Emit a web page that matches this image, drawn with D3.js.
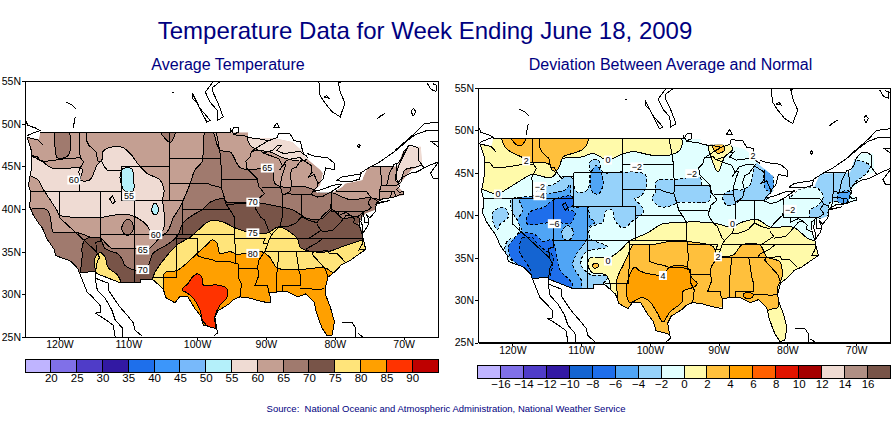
<!DOCTYPE html>
<html>
<head>
<meta charset="utf-8">
<script src="https://cdn.jsdelivr.net/npm/d3@7"></script>
<style>
  html, body { margin: 0; padding: 0; background: #fff; }
  svg { display: block; }
  text { font-family: 'Liberation Sans', Arial, sans-serif; }
</style>
</head>
<body>
<svg id="chart" width="895" height="423"></svg>
<script>
// all outlines below are [lon, lat]
const lonTicks = [-120, -110, -100, -90, -80, -70];
const latTicks = [25, 30, 35, 40, 45, 50, 55];

const avgBarColors = ['#bfb4ff', '#8070e8', '#4f3cc8', '#3219a3', '#1e6feb', '#3c96fa', '#78b9fa', '#b4f0fa',
  '#efdbd3', '#c49f92', '#a07a6e', '#785448', '#ffe47a', '#ffa000', '#ff3300', '#be0000'];
const avgBarLabels = ['20', '25', '30', '35', '40', '45', '50', '55', '60', '65', '70', '75', '80', '85', '90'];
const devBarColors = ['#bfb4ff', '#8070e8', '#4f3cc8', '#3219a3', '#1464d2', '#1e6eeb', '#50a5f5', '#96d2fa', '#e1ffff',
  '#fffaaa', '#ffc03c', '#ffa000', '#ff6000', '#e11400', '#a50000', '#efdbd3', '#b08f84', '#785448'];
const devBarLabels = ['−16', '−14', '−12', '−10', '−8', '−6', '−4', '−2', '0', '2', '4', '6', '8', '10', '12', '14', '16'];

// land area the shading is cut to (takes in Lake Michigan and part of Superior)
const landMask = [[-124.7,48.4],[-123,48.2],[-122.8,49],[-92.6,49],[-92.6,48.3],[-88.7,48.3],[-86.2,47.85],[-84.6,46.7],[-84.3,46.1],
  [-82.1,44.6],[-81.7,44.2],[-82.1,42.8],[-82.9,42.2],[-82.6,41.9],[-80.4,41.9],[-78.9,42.6],[-78.5,43],[-76,43.4],[-75.9,43.7],[-75.2,44.9],
  [-70.9,45],[-70.2,46.6],[-69.3,47.3],[-67.5,47.3],[-67.3,45.1],[-68.8,44.6],[-70.5,43],[-70.8,42.6],[-70,42],[-70,41.6],[-71.2,41.4],[-72.8,41.2],
  [-73.8,40.9],[-74,40.4],[-74.1,39.9],[-75.5,39.5],[-76.2,38.9],[-76.6,38.3],[-75.9,37.2],[-76,36.9],[-75.5,35.25],[-76.5,34.7],[-77.9,33.9],
  [-79,33.5],[-79.9,32.7],[-81,32],[-81.4,30.7],[-81.3,29.9],[-80.6,28.4],[-80.05,26.8],[-80.4,25.2],[-81.1,25.15],[-81.8,26],[-82.2,26.8],[-82.7,28],
  [-83,29.1],[-84.2,30.05],[-85.4,29.7],[-87,30.35],[-88,30.3],[-89.5,30.2],[-89.4,29.2],[-90.2,29.1],[-91.3,29.3],[-92.3,29.55],[-93.8,29.7],
  [-94.7,29.4],[-95.3,28.9],[-96.9,28.1],[-97.4,27.3],[-97.15,25.96],[-99.1,26.4],[-99.5,27.5],[-100.3,28.3],[-101.4,29.77],[-102.5,29.75],
  [-103.2,29],[-104.5,29.6],[-105,30.7],[-106.5,31.78],[-108.2,31.78],[-108.2,31.33],[-111.1,31.33],[-114.8,32.5],[-114.7,32.7],[-117.1,32.53],
  [-117.3,33],[-118.4,33.9],[-119.2,34.15],[-120.6,34.55],[-120.7,35.2],[-121.9,36.6],[-122,36.9],[-122.5,37.8],[-123,38.3],[-123.8,39.3],
  [-124.4,40.4],[-124.2,41],[-124.2,42],[-124.5,42.8],[-124.1,44.6],[-124,46.2],[-124.1,46.9]];

const coastLines = [
  [[-122.4,47.5],[-123.1,48.1],[-124.7,48.4],[-124.1,46.9],[-124,46.2],[-124.1,44.6],[-124.5,42.8],[-124.2,42],[-124.2,41],[-124.4,40.4],[-123.8,39.3],
   [-123,38.3],[-122.5,37.8],[-122,36.9],[-121.9,36.6],[-120.7,35.2],[-120.6,34.55],[-119.2,34.15],[-118.4,33.9],[-117.3,33],[-117.1,32.53],[-116,30.3],
   [-115.1,29.6],[-114.1,28.7],[-114.1,27.9],[-114.8,27.8],[-113.6,27.2],[-112.2,26.4],[-111.9,25]],
  [[-124.9,50.4],[-124.6,49.8],[-123.5,49.5],[-122.8,49.2],[-123.8,48.9],[-124.7,48.6]],
  [[-114.7,32.7],[-114.8,31.9],[-114.5,30.5],[-113.4,29.6],[-112.4,28.2],[-111.9,27],[-110.9,26.1],[-110.8,25]],
  [[-114.8,31.9],[-112.9,31.3],[-112.9,30.5],[-111.9,29.3],[-111.2,28.5],[-110.2,27.6],[-109.3,26.7],[-109,25.8],[-108,25.1]],
  [[-117.1,32.53],[-114.7,32.7],[-114.8,32.5],[-111.1,31.33],[-108.2,31.33],[-108.2,31.78],[-106.5,31.78],[-105,30.7],[-104.5,29.6],[-103.2,29],
   [-102.5,29.75],[-101.4,29.77],[-100.3,28.3],[-99.5,27.5],[-99.1,26.4],[-97.15,25.96],[-97,25.5],[-97.6,25.1]],
  [[-97.15,25.96],[-97.4,27.3],[-96.9,28.1],[-95.3,28.9],[-94.7,29.4],[-93.8,29.7],[-92.3,29.55],[-91.3,29.3],[-90.2,29.1],[-89.4,29],[-89.4,29.8],
   [-89.5,30.2],[-88,30.3],[-87,30.35],[-85.4,29.7],[-84.2,30.05],[-83,29.1],[-82.7,28],[-82.2,26.8],[-81.8,26],[-81.1,25.15],[-80.4,25.2],[-80.05,26.8],
   [-80.6,28.4],[-81.3,29.9],[-81.4,30.7],[-81,32],[-79.9,32.7],[-79,33.5],[-77.9,33.9],[-76.5,34.7],[-75.5,35.25],[-75.9,36.6],[-76,37],[-76.4,38],
   [-76.5,39.2],[-76,39.5],[-76.2,38.5],[-75.9,37.9],[-75.9,37.2],[-75.2,38],[-75.05,38.45],[-75.1,38.8],[-75.4,39.4],[-74.9,38.95],[-74.1,39.7],[-74,40.4],
   [-74,40.7],[-72,41],[-74,40.6],[-73.7,40.9],[-72.9,41.25],[-71.9,41.3],[-71,41.5],[-70.6,41.65],[-70,41.75],[-70,42.05],[-70.6,41.95],[-71,42.3],
   [-70.6,42.65],[-70.8,43.1],[-70.2,43.7],[-69,44.2],[-68.2,44.3],[-67,44.8],[-66,45.2],[-65,45.5]],
  [[-75.6,35.3],[-76.5,35.2],[-76,35.9],[-75.9,36.5]],
  [[-65,45.4],[-66.1,44.2],[-65.7,43.6],[-65,43.6]],
  [[-71.2,46.8],[-69.3,48.1],[-68.3,48.7],[-66.6,49.2],[-65,49.2]],
  [[-71.2,46.9],[-69.6,48],[-68.2,49],[-67,50],[-65,50.2]],
  [[-65,47.9],[-66,47.9],[-65,47.3]],
  [[-82.3,55],[-82.2,53.4],[-81.4,52.4],[-80.4,51.4],[-79.2,50.8],[-79,51.3],[-78.5,52.4],[-79.2,53.7],[-79.5,54.8],[-78.6,55]],
  [[-78.9,26.7],[-77.5,26.7],[-77,26.1],[-77,25]],
  [[-76.6,25.4],[-75.9,25]]
];

const lakeLines = [
  [[-87.6,41.65],[-87.85,42.5],[-87.8,43.4],[-87.5,44.3],[-87.1,45.2],[-87.6,45.1],[-88,44.55],[-87,45.7],[-86,45.95],[-85,46],[-84.75,45.85],[-85,45.6],
   [-85.6,44.9],[-86.2,44.7],[-86.5,43.9],[-86.25,43],[-86.5,42.1],[-87.2,41.7],[-87.6,41.65]],
  [[-92.1,46.75],[-90.8,46.9],[-90.4,46.55],[-89,46.9],[-88.4,47.4],[-87.8,47.45],[-88.4,46.85],[-87.4,46.5],[-86,46.65],[-85,46.75],[-84.6,46.45],[-84.1,46.2],[-84,46]],
  [[-92.1,46.75],[-90.5,47.6],[-89.6,48],[-88.3,48.4],[-88.2,48.9],[-86.5,48.8],[-85.9,48],[-85,47.9],[-84.7,46.9],[-84.5,46.5]],
  [[-84.75,45.8],[-83.4,45.1],[-83.3,44.3],[-83.9,43.7],[-83,44.05],[-82.5,43.1],[-82.5,42.6],[-83.1,42.2],[-83.4,41.7],[-82.5,41.4],[-81.7,41.5],[-80.5,42],[-78.9,42.9]],
  [[-78.9,42.87],[-80.2,42.8],[-81.8,42.3],[-83.1,42.05]],
  [[-82.4,43],[-81.7,43.5],[-81.3,44.8],[-80,44.6],[-80,45.3],[-81,46],[-83,46.2],[-84,46.5]],
  [[-79.8,43.3],[-79,43.27],[-77.5,43.25],[-76.4,43.5],[-76.2,44.1],[-77.5,43.95],[-79,43.75],[-79.8,43.3]],
  [[-76.3,44.2],[-74.7,45],[-73.5,45.5],[-71.2,46.8]],
  [[-97.7,54.9],[-98.8,53.7],[-98.1,52.5],[-97.1,51.6],[-97,50.4],[-96.2,50.8],[-97,52.5],[-97.7,53.7],[-97.8,54.2],[-96.7,54.9]],
  [[-100.7,53.6],[-99.6,51.8],[-98.1,50.4],[-98.6,50.2],[-100,52.4],[-100.7,53],[-100.7,53.6]],
  [[-103.6,53.6],[-103.3,53.6]],
  [[-119,52.5],[-118.2,52.2],[-117.6,51.7]],
  [[-117.7,50.8],[-118,49.5]],
  [[-95.1,49],[-94.6,49.6],[-94,49.6],[-94,49],[-94.6,48.8]],
  [[-88.9,49.5],[-88.4,50.1],[-88,49.5],[-88.9,49.5]],
  [[-81.6,53.1],[-81.2,53.3],[-80.9,53],[-81.6,53.1]],
  [[-73.9,50.5],[-73.2,51],[-72.7,51.2],[-73.5,50.8],[-73.9,50.5]],
  [[-68.9,51.4],[-68.6,51.8],[-68.2,51.4],[-68.6,50.9],[-68.9,51.4]],
  [[-76.7,47.4],[-76.5,47.6],[-76.3,47.4],[-76.5,47.2],[-76.7,47.4]],
  [[-66.6,54.8],[-66,54],[-65.3,53.8],[-65.2,54.5],[-65.8,54.7]],
  [[-112.7,41.2],[-112.3,41.5],[-111.9,40.9],[-112.3,40.6],[-112.7,41.2]]
];

const stateLines = [
  [[-122.8,49],[-95.15,49],[-95.15,49.38],[-94.6,48.7],[-93,48.55],[-92,48.3],[-90.8,48.2],[-89.6,48]],
  [[-124,46.25],[-123.2,46.15],[-122.8,45.65],[-122,45.6],[-121.2,45.65],[-120,45.8],[-119,45.93],[-116.92,46]],
  [[-117.03,49],[-117.04,46.4],[-116.92,46],[-116.5,45.5],[-116.85,45],[-117.2,44.4],[-117.03,43.8],[-117.03,42]],
  [[-124.2,42],[-111.05,42]],
  [[-120,42],[-120,39],[-114.63,35],[-114.15,34.3],[-114.5,33.9],[-114.72,32.72]],
  [[-114.04,42],[-114.04,37],[-114.05,36.2],[-114.7,36.1],[-114.63,35]],
  [[-114.04,37],[-94.62,37]],
  [[-116.05,49],[-116.05,48],[-115.7,47.45],[-114.7,46.7],[-114.4,45.6],[-113.9,45.6],[-113.4,44.9],[-113,44.5],[-111.5,44.55],[-111.05,44.5]],
  [[-111.05,45],[-104.05,45]],
  [[-111.05,45],[-111.05,41],[-104.05,41]],
  [[-109.05,41],[-109.05,31.33]],
  [[-104.05,41],[-102.05,41],[-102.05,37]],
  [[-103,37],[-103.05,32],[-106.6,32]],
  [[-103,36.5],[-100,36.5],[-100,34.56],[-99.2,34.3],[-98,34.1],[-97,33.8],[-95.5,33.9],[-94.48,33.64],[-94.04,33.55],[-94.04,32],[-93.55,31.2],[-93.7,30.1],[-93.8,29.7]],
  [[-94.62,37],[-94.43,35.4],[-94.48,33.64]],
  [[-104.05,49],[-104.05,41]],
  [[-104.05,45.94],[-96.56,45.94]],
  [[-104.05,43],[-98.5,43],[-97.9,42.8],[-96.5,42.5]],
  [[-102.05,40],[-95.3,40]],
  [[-94.62,37],[-94.62,39.1],[-95.3,40],[-95.8,40.6],[-96.1,41.5],[-96.5,42.5],[-96.45,43.5],[-96.56,45.94],[-96.85,47.5],[-97.2,49]],
  [[-96.45,43.5],[-91.22,43.5]],
  [[-95.77,40.58],[-91.7,40.6],[-91.4,40.4]],
  [[-92.1,46.75],[-92.3,46.1],[-92.9,45.6],[-92.75,44.75],[-91.2,43.5],[-91.1,42.7],[-90.2,41.8],[-91.1,41.2],[-91.4,40.4],[-91.5,40],[-90.7,39],[-90.2,38.7],
   [-89.5,37.3],[-89.15,37],[-89.5,36.5],[-90.1,35.1],[-91.1,33.9],[-91.2,33],[-91,32.3],[-91.6,31],[-89.73,31],[-89.6,30.2]],
  [[-94.04,33],[-91.2,33]],
  [[-94.62,36.5],[-90.15,36.5],[-90.37,36],[-89.7,36]],
  [[-89.5,36.5],[-81.68,36.59],[-75.9,36.55]],
  [[-90.3,35],[-84.32,35],[-84,35.4],[-82.6,36],[-81.7,36.59]],
  [[-88.2,35],[-88.1,34.9],[-88.47,31.9],[-88.4,30.3]],
  [[-85.6,35],[-85.2,32.8],[-85,32.2],[-85,31],[-87.6,31],[-87.5,30.3]],
  [[-85,30.7],[-84.86,30.7],[-82.2,30.57],[-81.5,30.7]],
  [[-83.1,35],[-83.3,34.7],[-82.5,34],[-81.4,33],[-81,32.1]],
  [[-84.32,35],[-81,35.1],[-80.8,34.8],[-79.7,34.8],[-78.55,33.85]],
  [[-83.68,36.6],[-82,37.5],[-82.6,38.2]],
  [[-81.9,37.3],[-80.3,37.5],[-79.2,38.4],[-78.4,39.2],[-77.75,39.3]],
  [[-89.15,37],[-88.1,37.9],[-87,37.9],[-85.7,38.3],[-84.8,39.1],[-83.7,38.65],[-82.6,38.4],[-81.75,39.2],[-80.7,40],[-80.52,40.64]],
  [[-87.53,41.7],[-87.53,39.3],[-88,37.9]],
  [[-84.8,41.7],[-84.8,39.1]],
  [[-87.2,41.76],[-84.8,41.75],[-83.45,41.73]],
  [[-80.52,42],[-80.52,39.72],[-75.8,39.72],[-75.4,39.8]],
  [[-79.76,42.27],[-79.76,42],[-75.35,42],[-74.7,41.36],[-73.9,41]],
  [[-75.4,39.8],[-75.1,39.9],[-74.7,40.2],[-75.2,40.7],[-74.7,41.36]],
  [[-79.48,39.72],[-79.48,39.2],[-78.4,39.6],[-77.75,39.3],[-77.1,38.8],[-77.3,38.4],[-76.3,38]],
  [[-75.8,39.72],[-75.7,38.46],[-75.05,38.45]],
  [[-74.7,45],[-71.5,45],[-71.4,45.25],[-70.8,45.4],[-70.3,45.9],[-70,46.7],[-69.2,47.45],[-68.3,47.35],[-67.8,47.07],[-67.8,45.7],[-67.45,45.3],[-67,44.8]],
  [[-73.35,45],[-73.25,43.6],[-73.27,42.75],[-73.5,42.05],[-73.5,41.3],[-73.65,41]],
  [[-71.5,45],[-72.05,44.2],[-72.46,42.73]],
  [[-73.27,42.75],[-71.3,42.7],[-70.8,42.87]],
  [[-73.5,42.05],[-71.38,42.02],[-71.1,41.5]],
  [[-71.8,42.02],[-71.85,41.3]],
  [[-71.08,45.3],[-70.97,43.4],[-70.7,43.1]],
  [[-90.64,42.5],[-87.8,42.5]],
  [[-90.4,46.55],[-88.1,45.9],[-87.6,45.1]]
];

// average temperature bands
const avgLight = [[-124.6,46.2],[-122.4,45.5],[-121.1,44.8],[-117,44.8],[-116.6,44.6],[-117,43.4],[-115.6,43.4],[-114.5,45.2],[-113.8,45.8],[-113.7,46.7],[-112.7,47.2],
  [-110.8,47.2],[-109.5,46.3],[-108.7,45.4],[-107.3,44.2],[-105.4,43.4],[-104.8,42.2],[-105,41.1],[-104.7,38.7],[-105,37.5],[-106.5,37],[-107.3,38.1],[-109.7,39.3],
  [-111.9,39.3],[-114.1,39],[-116.6,39],[-120,39.3],[-120.4,39.9],[-122.5,42.5],[-123.1,43.4],[-124.3,43.9],[-125.7,43.9]];
const avgLightNorth = [[-92.6,48.4],[-92.3,47.5],[-91.1,46.9],[-89.4,46.7],[-87.5,46],[-84.3,45.7],[-83.6,46.7],[-85,48.1],[-88.7,48.7]];
const avgLightEast = [[-71.2,43.4],[-70.9,44.6],[-70,46.3],[-69,47.5],[-66.9,47.5],[-66.9,45.4],[-68.3,44.9],[-69.8,44.6],[-70.5,43]];
const avg65Idaho = [[-120.5,49.4],[-118.8,49.4],[-118.7,46.3],[-120.3,46],[-120.6,47]];
const avg65Dakota = [[-105.4,49.3],[-103.9,47.8],[-103.2,49.3]];
const avg65Utah = [[-110.1,38.8],[-109.4,38.4],[-109.3,37.6],[-110,36.9],[-110.7,37.2],[-110.9,38]];
const avg65 = [[-127.2,38.7],[-121.8,39.9],[-120.9,37.3],[-120.1,37.2],[-117.3,37.2],[-115.1,36.6],[-114.1,36.6],[-112.4,35.4],[-110.8,35.4],[-108.6,35.4],[-107.1,35.3],
  [-105.7,36.4],[-104.2,37.5],[-103.5,38.9],[-102.5,40.2],[-101.8,41.4],[-101,43],[-100.3,44.6],[-99.3,45.5],[-99.1,46.9],[-98.8,49.1],[-97.8,49.1],[-96.7,46.9],[-95.2,46.7],
  [-93.8,44.9],[-92.3,44.6],[-90.1,44.8],[-89.1,44.6],[-88.7,43],[-87.7,42.6],[-84.3,42.6],[-82.9,42.2],[-82.1,41.9],[-80.4,41.9],[-77.8,41.1],[-74.6,41.3],[-72.7,40.5],[-72.7,24],[-127.2,24]];
const avg70 = [[-117,32.3],[-116.7,34.4],[-116.7,35.5],[-116.3,36.4],[-115.1,36.7],[-114.1,36.6],[-113.4,35.4],[-112.4,35],[-111.6,34.8],[-110.8,34],[-110.5,33.4],[-108.6,32.8],
  [-107.1,33.4],[-106.4,34.8],[-104.4,35.8],[-102.9,36.8],[-102,38.4],[-100.6,39.3],[-99.3,39.9],[-98.1,40.8],[-96.2,41.2],[-95.7,40.8],[-92.7,40.8],[-90.9,40.7],[-87.6,40.2],
  [-86.1,39.9],[-84,38.9],[-81.8,38.9],[-80.4,39.9],[-78.8,38.9],[-76.8,39.1],[-75.6,38.1],[-74.1,36.4],[-74.1,24.6],[-117.7,24.6]];
const avg75Phoenix = [[-114.8,34.3],[-114.1,34.9],[-113.4,34.4],[-112.9,33.1],[-111.6,32.3],[-111.2,31.4],[-114.1,31.7],[-114.7,32.6]];
const avg75 = [[-106.8,31.1],[-106.1,32.6],[-104.9,34],[-102.9,35.8],[-101,36.7],[-98.6,38.4],[-97.7,38.7],[-96,38.4],[-94.5,37.8],[-92.6,37.3],[-89.7,37.2],[-88.2,37.9],
  [-85.5,36.6],[-85,35.5],[-83.9,35.1],[-81,35],[-79.2,35.5],[-77,36.1],[-74.6,36.4],[-74.6,24.6],[-106.8,24.6]];
const avg80 = [[-104.7,29.3],[-104.7,32.5],[-102.9,32.8],[-101.3,33.8],[-100,34.8],[-98.6,35.8],[-97.8,36.4],[-97.1,36],[-96.7,34.8],[-95.2,35],[-94.2,34.7],[-90.6,35],[-89.4,34.3],
  [-88.4,33.1],[-85.3,32.9],[-81.4,33.1],[-80.4,32.6],[-78.5,32.3],[-78.5,24.5],[-104.7,24.5]];
const avg85 = [[-102.2,30.5],[-101.3,31.3],[-100.7,32],[-100,32.4],[-99.3,32],[-99.1,31.1],[-97.1,31.1],[-95.7,30.7],[-95.7,29.6],[-96.7,28.7],[-97.4,27.4],[-97.4,25.8],[-99.1,26.8],
  [-99.6,28.2],[-100.6,29.6],[-101.5,30.2]];
const avg50Wyoming = [[-111.2,43.7],[-110.8,44.7],[-109.5,44.7],[-109.2,43.4],[-109.3,42.1],[-110.5,42.1],[-111.1,43.2]];
const avg50Colorado = [[-106.1,40.7],[-105.7,40.3],[-105.65,39.7],[-106.1,39.3],[-106.55,39.7],[-106.5,40.3]];

// departure from normal bands
const dev0North = [[-125.4,43],[-124.3,43],[-122.2,42.5],[-120.6,43.2],[-119.2,43.9],[-117.1,44.8],[-114.5,44.4],[-113.8,44.8],[-112.8,46.6],[-109.7,46.9],[-108.3,47.3],[-106.1,46.5],
  [-104.3,47.1],[-102.4,47.5],[-99.9,47.1],[-97.1,47.1],[-95.6,47.7],[-95.3,48.5],[-95.9,49.8],[-125.4,49.8]];
const dev0South = [[-105.8,32],[-106.5,33],[-108.3,33.2],[-109,34.1],[-108.7,35],[-105.9,35],[-104.3,35.9],[-102.9,37],[-100.4,37.9],[-98.1,39],[-96.3,39.1],[-94.7,39.2],[-90.8,39.1],
  [-88,38.6],[-86.9,39.1],[-84.4,39.5],[-82.5,38.6],[-79.2,38.6],[-77.1,37.3],[-75.2,36.5],[-75.2,24.7],[-105.8,24.7]];
const dev0Superior = [[-91.5,48],[-91.2,47.1],[-90.1,45.1],[-89.1,46.9],[-88,47.7],[-88.5,48.5],[-91.2,48.3]];
const dev2North = [[-121.4,49.8],[-121.1,48.1],[-120.3,47.5],[-119.3,47.1],[-118.5,46.8],[-117.4,46.2],[-115.3,46.2],[-114.5,45.9],[-114.2,45.3],[-113.5,45.3],[-113.1,45.9],[-112.6,46.9],
  [-111.2,47.3],[-109.7,47.8],[-109.1,48.5],[-109.1,49.8]];
const dev2Superior = [[-90.8,47.9],[-90.1,47.3],[-89.1,47.7],[-89.4,48.3],[-90.8,48.2]];
const dev2South = [[-104.6,24.7],[-104.6,29.4],[-104.8,32.4],[-103.9,34.1],[-103.2,35.3],[-102.4,36.5],[-100,36.5],[-97.1,36.9],[-94.6,36.9],[-90.8,36.3],[-90.2,35.3],[-87.9,35.3],
  [-86.6,36.5],[-84,36.5],[-83,35.1],[-81.1,34.5],[-80.8,32.6],[-81.4,31.6],[-81.4,29.1],[-82.8,28.8],[-84,24.7]];
const dev2Pocket = [[-108.3,34.2],[-107.6,34.3],[-107.5,33.9],[-108.2,33.8]];
const dev4North = [[-120.2,49.3],[-119.4,48.3],[-118.6,48.3],[-118,49.3]];
const dev4Texas = [[-103.3,30.3],[-103.3,32],[-102.2,33.9],[-101.4,33.4],[-98.1,33],[-97.1,33.9],[-94.6,33.9],[-93.9,32.6],[-93.1,32],[-93.4,31.6],[-95.2,31],[-95.3,29.8],[-97.1,28.6],
  [-98.1,27.4],[-99,28.6],[-100,29.8],[-101.1,30.3],[-102.9,29.7]];
const dev4Gulf = [[-86.4,30.7],[-85.6,30.9],[-84.9,30.6],[-85.4,30.2],[-86.2,30.3]];
const devM2West = [[-117.4,32.7],[-118.5,33.3],[-120.1,34.7],[-121.1,35.9],[-120.6,37.1],[-119.6,37.4],[-118.9,38.6],[-120.1,40.6],[-120.1,41.9],[-117.1,42.2],[-116,43.2],[-114.1,43.6],
  [-112.3,44.5],[-111.3,44.4],[-110.9,43],[-110.4,42.7],[-109.1,43],[-108.7,44.8],[-108.7,46.3],[-107.5,46.5],[-106.8,45.1],[-104,45.1],[-100.7,44.8],[-100.6,43.2],[-101.4,42.2],[-102.2,42],
  [-101.1,40.9],[-101,40.3],[-102.4,39.4],[-103.9,38.5],[-105.1,39.4],[-105.5,40.6],[-106.5,40.4],[-106.8,39.2],[-107.7,38.9],[-108.7,38.5],[-108.7,37.3],[-106.2,36.3],[-109.4,35.6],
  [-110,34.2],[-108.6,33],[-106.5,32.9],[-106.2,32.6],[-108.3,31.2],[-117.4,30.6]];
const devM2Coast = [[-122.8,40.4],[-121.1,40.9],[-120.6,39.8],[-121.8,38.9],[-122.2,38.3],[-122.8,39.1]];
const devM2Plains = [[-99.2,43.8],[-98.5,44.2],[-96.6,44.2],[-94.6,44.4],[-92.7,44.5],[-92.4,43.6],[-91.2,43.3],[-91.2,42.2],[-91.5,41.6],[-93.4,41.5],[-95.9,41.5],[-96.6,41.2],[-98.5,41],[-99.7,42],[-99.2,42.7]];
const devM2Lakes = [[-89.1,42.6],[-87.6,43],[-86.6,43],[-85.4,43.6],[-85,45.1],[-84.4,46.2],[-83,45.6],[-82.2,43.6],[-82,42.6],[-82.5,42.2],[-83.2,41.8],[-86.9,41.7],[-87.9,41.2],[-88.8,41.2],[-89.4,42]];
const devM2East = [[-79.6,42.2],[-78.4,43],[-75.7,43.2],[-74.8,42.2],[-75.5,41.2],[-76.7,40.6],[-76.7,39.8],[-75.5,39.7],[-74.5,39.4],[-74.1,40.3],[-73.8,41.5],[-71.3,41.6],[-70.9,42.8],[-70.1,43.9],[-68.4,45],
  [-68,45.9],[-78.1,46.5]];
const devM4West = [[-117,31.2],[-117,32.6],[-117.4,33.2],[-118.6,34.4],[-120.1,35.7],[-120.1,36.5],[-119.3,37.1],[-118.5,37.9],[-119.2,39.4],[-118.5,40.6],[-119,42],[-117,42.2],[-114.5,42.6],[-112.3,43],[-111.6,43.6],
  [-111.2,41],[-109.1,41],[-108.7,39.7],[-108,39.2],[-109,38.5],[-109.1,37.3],[-110.9,35.1],[-111.2,34.1],[-109.9,32.1],[-110.4,30.6]];
const devM4Oval = [[-108.7,43.8],[-108.4,45.3],[-107.7,45.9],[-107,44.8],[-106.8,43.6],[-107.5,42.5],[-108.3,42.7]];
const devM4Michigan = [[-83.2,45.6],[-82.4,45.3],[-82,43.6],[-82.4,42.8],[-83.1,43],[-83.4,44.2]];
const devM4East = [[-72.6,42.6],[-70.9,42.8],[-71.3,41.5],[-72.6,41.5]];
const devM6North = [[-118,39.3],[-117.4,40.4],[-115.3,41],[-114.1,41.8],[-111.3,42.2],[-111.2,41.2],[-111.9,40.6],[-110.9,40.4],[-111.2,39.4],[-111.6,39],[-113.8,39.2],[-116.7,38.9],[-117.7,38.9]];
const devM2Utah = [[-112,38.8],[-111.3,38.4],[-111.2,37.6],[-111.9,37],[-112.6,37.3],[-112.8,38.1]];
const devM6South = [[-119.9,37.1],[-118.9,37.9],[-116.7,37.7],[-115.5,36.9],[-114.2,37.1],[-113.1,33.6],[-111.3,31.8],[-113.1,30.6],[-116.7,30.6],[-118.5,33.6],[-120.3,35.1],[-120.6,36.3]];
const devM8South = [[-118.9,36.7],[-118.6,37.3],[-117,37.3],[-116.4,36.7],[-115.3,35.9],[-114.2,35.3],[-114.2,33.8],[-114.8,32.6],[-117.1,32.6],[-117.4,33.6],[-118.5,35],[-118.9,35.6]];

// contour labels: [lon, lat, text]
const avgLabels = [[-117.9,43.4,'60'],[-109.9,41.5,'55'],[-106,37,'60'],[-107.9,35.2,'65'],[-107.9,32.9,'70'],[-91.9,37.2,'75'],[-91.9,34.8,'80'],[-89.8,44.8,'65'],[-91.9,40.8,'70']];
const devLabels = [[-118,46.4,'2'],[-122.1,42.5,'0'],[-116,43.4,'−2'],[-116,42.3,'−4'],[-106.1,46.5,'0'],[-93.9,44.9,'−2'],[-101.9,45.7,'−2'],[-85,47,'2'],[-79.6,40.7,'−2'],
  [-113.9,39,'−6'],[-106.1,34.6,'0'],[-98.1,32.9,'4'],[-90.1,35.1,'2'],[-88,39,'0']];

const avgLayers = [
  [avgLight, '#efdbd3'], [avgLightNorth, '#efdbd3'], [avgLightEast, '#efdbd3'],
  [avg65Idaho, '#a07a6e'], [avg65Dakota, '#a07a6e'], [avg65Utah, '#a07a6e'], [avg65, '#a07a6e'],
  [avg70, '#785448'], [avg75Phoenix, '#ffe47a'], [avg75, '#ffe47a'], [avg80, '#ffa000'], [avg85, '#ff3300'],
  [avg50Wyoming, '#b4f0fa'], [avg50Colorado, '#b4f0fa']
].map(([ring, color]) => ({ ring, color, dashed: false }));

const devLayers = [
  [dev0North, '#fffaaa', 0], [dev0South, '#fffaaa', 0], [dev0Superior, '#fffaaa', 0],
  [dev2North, '#ffc03c', 0], [dev2Superior, '#ffc03c', 0], [dev2South, '#ffc03c', 0], [dev2Pocket, '#ffc03c', 0],
  [dev4North, '#ffa000', 0], [dev4Texas, '#ffa000', 0], [dev4Gulf, '#ffa000', 0],
  [devM2West, '#96d2fa', 1], [devM2Coast, '#96d2fa', 1], [devM2Plains, '#96d2fa', 1], [devM2Lakes, '#96d2fa', 1], [devM2East, '#96d2fa', 1],
  [devM4West, '#50a5f5', 1], [devM4Oval, '#50a5f5', 1], [devM4Michigan, '#50a5f5', 1], [devM4East, '#50a5f5', 1],
  [devM6North, '#1e6eeb', 1], [devM2Utah, '#96d2fa', 1], [devM6South, '#1e6eeb', 1], [devM8South, '#1464d2', 1]
].map(([ring, color, dashed]) => ({ ring, color, dashed: !!dashed }));

const svg = d3.select('#chart');
let clipCount = 0;

function drawMap(box, base, layers, labels) {
  const x = d3.scaleLinear().domain([-125, -65]).range([box.left, box.right]);
  const y = d3.scaleLinear().domain([25, 55]).range([box.bottom, box.top]);
  const straight = d3.line().x((d) => x(d[0])).y((d) => y(d[1]));
  const smooth = d3.line().x((d) => x(d[0])).y((d) => y(d[1])).curve(d3.curveCatmullRomClosed.alpha(0.5));

  clipCount += 1;
  const landId = `land-${clipCount}`;
  const plotId = `plot-${clipCount}`;
  const defs = svg.append('defs');
  defs.append('clipPath').attr('id', landId).append('path').attr('d', `${straight(landMask)}Z`);
  defs.append('clipPath').attr('id', plotId).append('rect')
    .attr('x', box.left).attr('y', box.top).attr('width', box.right - box.left).attr('height', box.bottom - box.top);

  const land = svg.append('g').attr('clip-path', `url(#${landId})`);
  land.append('path').attr('d', `${straight(landMask)}Z`).attr('fill', base);
  land.selectAll('path.band')
    .data(layers)
    .join('path')
    .attr('class', 'band')
    .attr('d', (d) => smooth(d.ring))
    .attr('fill', (d) => d.color)
    .attr('stroke', '#000')
    .attr('stroke-width', 1)
    .attr('stroke-dasharray', (d) => (d.dashed ? '3 2' : null))
    .attr('shape-rendering', 'crispEdges');

  const geo = svg.append('g').attr('clip-path', `url(#${plotId})`);
  geo.selectAll('path')
    .data([...stateLines, ...coastLines, ...lakeLines])
    .join('path')
    .attr('d', straight)
    .attr('fill', 'none')
    .attr('stroke', '#000')
    .attr('stroke-width', 1)
    .attr('shape-rendering', 'crispEdges');

  const tags = svg.append('g').selectAll('g').data(labels).join('g')
    .attr('transform', (d) => `translate(${x(d[0])},${y(d[1])})`);
  tags.append('rect')
    .attr('x', (d) => -(d[2].length * 2.5 + 1.5)).attr('y', -4.5)
    .attr('width', (d) => d[2].length * 5 + 3).attr('height', 9)
    .attr('fill', '#fff');
  tags.append('text')
    .attr('text-anchor', 'middle').attr('y', 3.2)
    .attr('font-size', 9)
    .text((d) => d[2]);

  const bottomAxis = d3.axisBottom(x).tickValues(lonTicks).tickSize(3).tickSizeOuter(0).tickPadding(1).tickFormat((d) => `${-d}W`);
  const leftAxis = d3.axisLeft(y).tickValues(latTicks).tickSize(3).tickSizeOuter(0).tickPadding(1).tickFormat((d) => `${d}N`);
  const xg = svg.append('g').attr('transform', `translate(0,${box.bottom})`).call(bottomAxis);
  const yg = svg.append('g').attr('transform', `translate(${box.left},0)`).call(leftAxis);
  [xg, yg].forEach((g) => {
    g.attr('font-family', null);
    g.selectAll('text').attr('font-size', 10.5).attr('fill', '#000');
    g.selectAll('line, path').attr('shape-rendering', 'crispEdges');
  });
  svg.append('rect')
    .attr('x', box.left).attr('y', box.top).attr('width', box.right - box.left).attr('height', box.bottom - box.top)
    .attr('fill', 'none').attr('stroke', '#000').attr('shape-rendering', 'crispEdges');
}

function drawBar(box, colors, labels) {
  const x = d3.scaleLinear().domain([0, colors.length]).range([box.left, box.right]);
  svg.append('g').selectAll('rect').data(colors).join('rect')
    .attr('x', (d, i) => x(i)).attr('width', (d, i) => x(i + 1) - x(i))
    .attr('y', box.top).attr('height', box.bottom - box.top)
    .attr('fill', (d) => d).attr('stroke', '#000').attr('shape-rendering', 'crispEdges');
  const g = svg.append('g').attr('transform', `translate(0,${box.bottom})`)
    .call(d3.axisBottom(x).tickValues(d3.range(1, colors.length)).tickSize(0).tickPadding(1).tickFormat((d) => labels[d - 1]));
  g.select('.domain').remove();
  g.attr('font-family', null);
  g.selectAll('text').attr('font-size', 11.5).attr('fill', '#000');
}

drawMap({ left: 25, right: 438, top: 81, bottom: 337 }, '#c49f92', avgLayers, avgLabels);
drawMap({ left: 478, right: 890.5, top: 88, bottom: 342.5 }, '#e1ffff', devLayers, devLabels);
drawBar({ left: 25, right: 438, top: 359, bottom: 372.5 }, avgBarColors, avgBarLabels);
drawBar({ left: 477.5, right: 890.5, top: 365, bottom: 378.5 }, devBarColors, devBarLabels);

const navy = '#000080';
svg.append('text').attr('x', 425).attr('y', 39).attr('text-anchor', 'middle').attr('font-size', 24).attr('fill', navy)
  .text('Temperature Data for Week Ending June 18, 2009');
svg.append('text').attr('x', 228).attr('y', 70).attr('text-anchor', 'middle').attr('font-size', 16).attr('fill', navy)
  .text('Average Temperature');
svg.append('text').attr('x', 670.5).attr('y', 70).attr('text-anchor', 'middle').attr('font-size', 16).attr('fill', navy)
  .text('Deviation Between Average and Normal');
svg.append('text').attr('x', 446).attr('y', 412).attr('text-anchor', 'middle').attr('font-size', 9.5).attr('fill', navy)
  .style('white-space', 'pre')
  .text('Source:  National Oceanic and Atmospheric Administration, National Weather Service');
</script>
</body>
</html>
